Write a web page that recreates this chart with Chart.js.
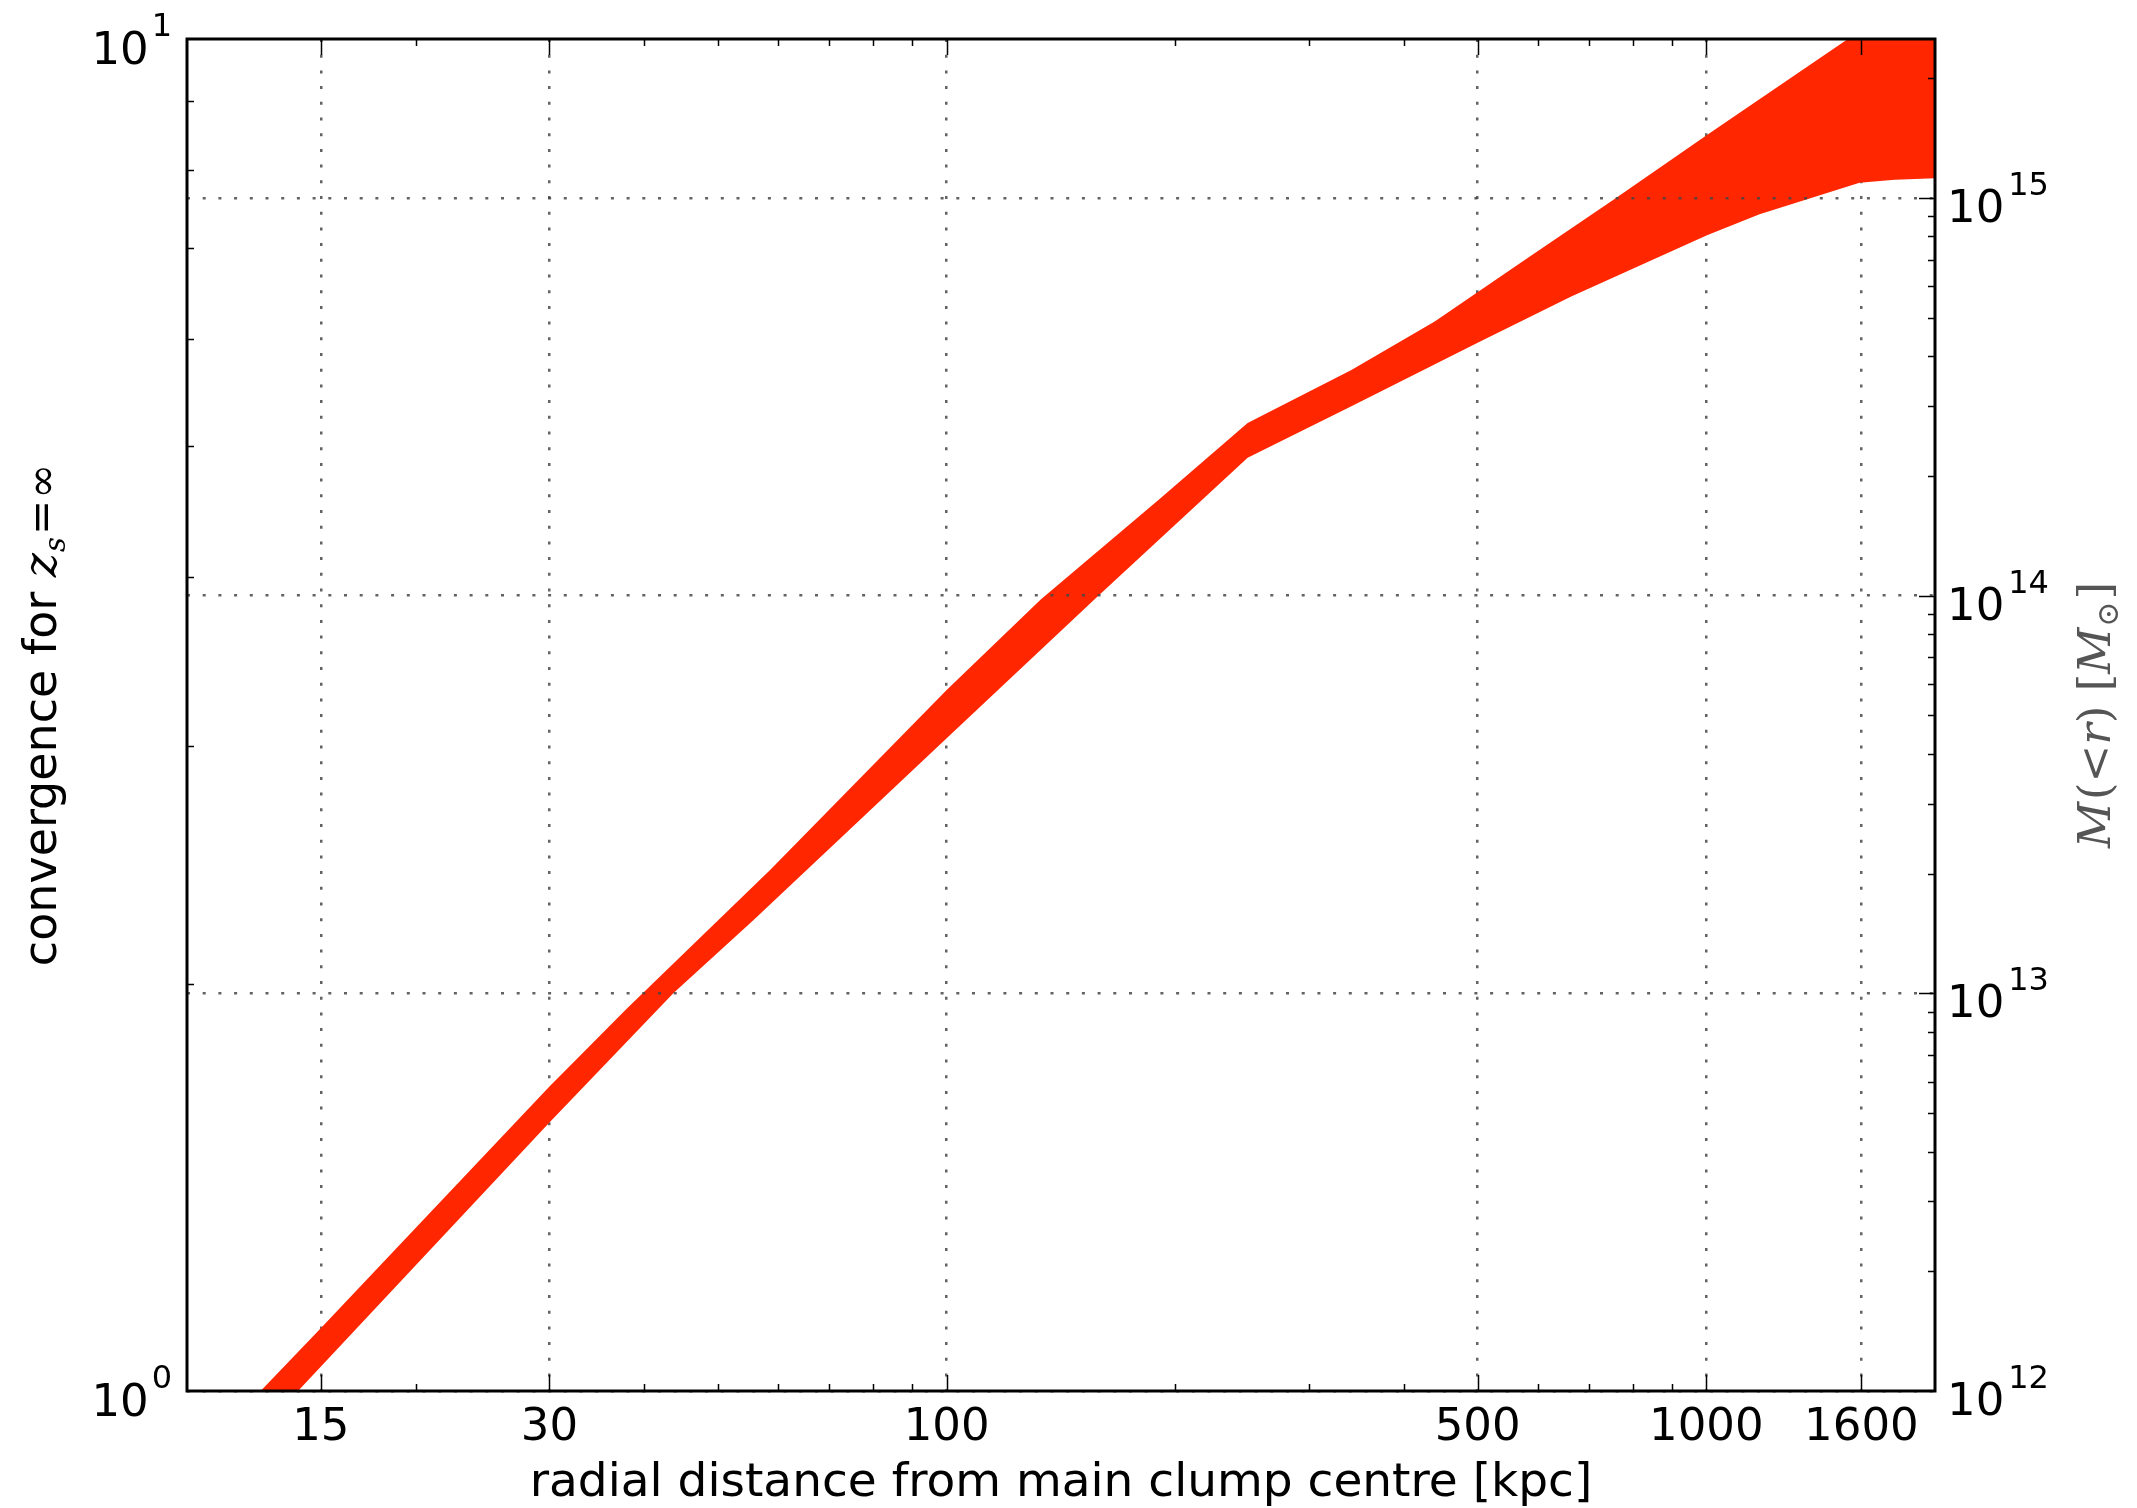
<!DOCTYPE html>
<html>
<head>
<meta charset="utf-8">
<script src="https://cdn.jsdelivr.net/npm/chart.js@4"></script>
<style>
  html, body { margin: 0; padding: 0; background: #fff; }
</style>
</head>
<body>
<canvas id="myChart" width="2137" height="1508"></canvas>
<script>
const ctx = document.getElementById('myChart');

// borde superior e inferior de la banda (radio en kpc, convergencia)
const radioSup = [12.5, 15, 30, 38, 58.6, 100, 133, 190, 249, 341, 439, 576, 753, 1002, 1536, 2000];
const kappaSup = [1.0, 1.113, 1.68, 1.92, 2.43, 3.30, 3.85, 4.56, 5.2, 5.69, 6.18, 6.86, 7.60, 8.49, 10.0, 11.1];
const radioInf = [12.5, 14.0, 30, 43.7, 55.7, 100, 158, 249, 341, 500, 664, 1002, 1175, 1591, 1770, 2000];
const kappaInf = [1.0, 1.0, 1.58, 1.97, 2.23, 3.04, 3.87, 4.9, 5.35, 5.96, 6.45, 7.16, 7.42, 7.83, 7.87, 7.89];

const ticksX = [15, 30, 100, 500, 1000, 1600];
const ticksK = [1, 10];
const ticksM = [1e12, 1e13, 1e14, 1e15];
const expK = ['0', '1'];
const expM = ['12', '13', '14', '15'];

const rojo = '#ff2600';
const puntos = 'rgba(70, 70, 70, 0.85)';
const fuente = 'DejaVu Sans';

// texto en tramos (para superindices y subindices)
function escribirTramos(c, tramos, x, y, ang, align) {
  c.save();
  c.translate(x, y);
  c.rotate(ang);
  let total = 0;
  tramos.forEach(tr => {
    c.font = tr.f;
    tr.w = c.measureText(tr.t).width + (tr.gap || 0);
    total += tr.w;
  });
  let cx = align === 'center' ? -total / 2 : (align === 'right' ? -total : 0);
  c.textAlign = 'left';
  c.textBaseline = 'alphabetic';
  tramos.forEach(tr => {
    c.font = tr.f;
    c.fillStyle = tr.color || '#000';
    c.fillText(tr.t, cx, tr.dy || 0);
    cx += tr.w;
  });
  c.restore();
}

function menores(min, max) {
  const out = [];
  for (let d = Math.floor(Math.log10(min)); d <= Math.ceil(Math.log10(max)); d++) {
    for (let k = 1; k < 10; k++) {
      const v = k * Math.pow(10, d);
      if (v > min && v < max) out.push(v);
    }
  }
  return out;
}

const marco = {
  id: 'marco',
  afterDraw(chart) {
    const c = chart.ctx;
    const a = chart.chartArea;
    const sx = chart.scales.x, sy = chart.scales.y, sm = chart.scales.y2;
    c.save();
    c.strokeStyle = '#000';
    c.lineWidth = 1.5;
    c.beginPath();
    // marcas eje x (abajo y arriba, hacia dentro)
    menores(10, 2000).forEach(v => {
      const px = Math.round(sx.getPixelForValue(v)) + 0.5;
      c.moveTo(px, a.bottom); c.lineTo(px, a.bottom - 7);
      c.moveTo(px, a.top); c.lineTo(px, a.top + 7);
    });
    ticksX.forEach(v => {
      const px = Math.round(sx.getPixelForValue(v)) + 0.5;
      c.moveTo(px, a.bottom); c.lineTo(px, a.bottom - 16);
      c.moveTo(px, a.top); c.lineTo(px, a.top + 16);
    });
    // marcas eje izquierdo
    menores(1, 10).forEach(v => {
      const py = Math.round(sy.getPixelForValue(v)) + 0.5;
      c.moveTo(a.left, py); c.lineTo(a.left + 7, py);
    });
    // marcas eje derecho
    menores(1e12, sm.max).forEach(v => {
      const py = Math.round(sm.getPixelForValue(v)) + 0.5;
      const l = ticksM.includes(v) ? 16 : 7;
      c.moveTo(a.right, py); c.lineTo(a.right - l, py);
    });
    c.stroke();

    // marco
    c.lineWidth = 3;
    c.strokeRect(a.left, a.top, a.right - a.left, a.bottom - a.top);

    // etiquetas eje x
    c.fillStyle = '#000';
    c.font = '45px "' + fuente + '"';
    c.textAlign = 'center';
    c.textBaseline = 'alphabetic';
    ticksX.forEach(v => {
      c.fillText(String(v), sx.getPixelForValue(v), a.bottom + 49);
    });

    // etiquetas eje izquierdo
    ticksK.forEach((v, i) => {
      const py = sy.getPixelForValue(v);
      escribirTramos(c, [
        { t: '10', f: '45px "' + fuente + '"', dy: 25, gap: 3 },
        { t: expK[i], f: '32px "' + fuente + '"', dy: -3 }
      ], a.left - 15, py, 0, 'right');
    });

    // etiquetas eje derecho
    ticksM.forEach((v, i) => {
      const py = sm.getPixelForValue(v);
      escribirTramos(c, [
        { t: '10', f: '45px "' + fuente + '"', dy: 24, gap: 4 },
        { t: expM[i], f: '32px "' + fuente + '"', dy: -3 }
      ], a.right + 12, py, 0, 'left');
    });

    // titulos
    const cy = (a.top + a.bottom) / 2;
    escribirTramos(c, [
      { t: 'radial distance from main clump centre [kpc]', f: '47px "' + fuente + '"' }
    ], (a.left + a.right) / 2, 1496, 0, 'center');

    escribirTramos(c, [
      { t: 'convergence for ', f: '46px "' + fuente + '"' },
      { t: 'z', f: 'italic 46px "DejaVu Serif"', gap: 1 },
      { t: 's', f: 'italic 29px "DejaVu Serif"', dy: 9, gap: 2 },
      { t: '=', f: '42px "DejaVu Serif"', gap: 1 },
      { t: '∞', f: '42px "DejaVu Serif"' }
    ], 56, cy, -Math.PI / 2, 'center');

    const gris = '#555';
    escribirTramos(c, [
      { t: 'M', f: 'italic 45px "DejaVu Serif"', color: gris, gap: 2 },
      { t: '(<', f: '45px "DejaVu Serif"', color: gris },
      { t: 'r', f: 'italic 45px "DejaVu Serif"', color: gris },
      { t: ') [', f: '45px "DejaVu Serif"', color: gris },
      { t: 'M', f: 'italic 45px "DejaVu Serif"', color: gris, gap: 1 },
      { t: '⊙', f: '30px "DejaVu Serif"', color: gris, dy: 8, gap: 2 },
      { t: ']', f: '45px "DejaVu Serif"', color: gris }
    ], 2110, cy, -Math.PI / 2, 'center');
    c.restore();
  }
};

const myChart = new Chart(ctx, {
  type: 'line',
  data: {
    datasets: [{
      label: 'superior',
      data: radioSup.map((r, i) => ({ x: r, y: kappaSup[i] })),
      borderWidth: 0,
      pointRadius: 0,
      backgroundColor: rojo,
      fill: '+1',
      tension: 0,
    }, {
      label: 'inferior',
      data: radioInf.map((r, i) => ({ x: r, y: kappaInf[i] })),
      borderWidth: 0,
      pointRadius: 0,
      fill: false,
      tension: 0,
    }]
  },
  options: {
    responsive: false,
    animation: false,
    devicePixelRatio: 1,
    plugins: {
      legend: { display: false },
      tooltip: { enabled: false },
    },
    layout: {
      padding: { left: 187, right: 202, top: 39, bottom: 117 }
    },
    scales: {
      x: {
        type: 'logarithmic',
        min: 10,
        max: 2000,
        position: 'bottom',
        afterBuildTicks: s => { s.ticks = ticksX.map(v => ({ value: v })); },
        afterFit: s => { s.height = 0; },
        ticks: { display: false },
        grid: { color: puntos, lineWidth: 2.5, drawTicks: false, z: 0 },
        border: { display: false, dash: [3, 12.7] },
      },
      y: {
        type: 'logarithmic',
        min: 1,
        max: 10,
        position: 'left',
        afterBuildTicks: s => { s.ticks = ticksK.map(v => ({ value: v })); },
        afterFit: s => { s.width = 0; },
        ticks: { display: false },
        grid: { display: false },
        border: { display: false },
      },
      y2: {
        type: 'logarithmic',
        min: 1e12,
        max: 2.51e15,
        position: 'right',
        afterBuildTicks: s => { s.ticks = ticksM.map(v => ({ value: v })); },
        afterFit: s => { s.width = 0; },
        ticks: { display: false },
        grid: { color: puntos, lineWidth: 2.5, drawTicks: false, z: 1 },
        border: { display: false, dash: [3, 12.7] },
      }
    }
  },
  plugins: [marco]
});
</script>
</body>
</html>
